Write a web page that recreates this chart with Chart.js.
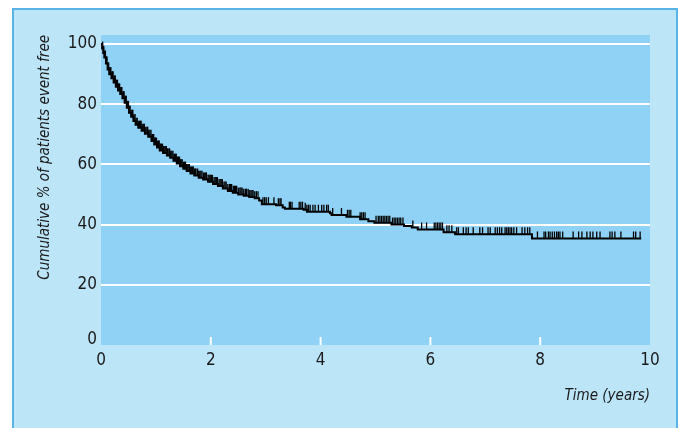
<!DOCTYPE html>
<html>
<head>
<meta charset="utf-8">
<script src="https://cdn.jsdelivr.net/npm/chart.js@4.4.0/dist/chart.umd.min.js"></script>
<style>
  html, body { margin: 0; padding: 0; background: #fff; }
  .panel { position: absolute; left: 12px; top: 8px; width: 662px; height: 430px; background: #bde5f8; border: 2px solid #58b2e6; }
  #wrap { position: absolute; left: 0; top: 0; width: 681px; height: 428px; }
</style>
</head>
<body>
<div class="panel"></div>
<div id="wrap"><canvas id="kmChart" width="681" height="428"></canvas></div>
<script>
// Kaplan-Meier curve
const stepTimes = [0, 0.02, 0.04, 0.06, 0.09, 0.12, 0.15, 0.19, 0.23, 0.27, 0.31, 0.35, 0.39, 0.43, 0.47, 0.51, 0.55, 0.59, 0.63, 0.68, 0.74, 0.8, 0.86, 0.92, 0.97, 1.02, 1.07, 1.13, 1.2, 1.26, 1.32, 1.38, 1.44, 1.5, 1.56, 1.63, 1.7, 1.78, 1.86, 1.95, 2.04, 2.13, 2.22, 2.31, 2.4, 2.5, 2.6, 2.7, 2.8, 2.88, 2.93, 3.19, 3.31, 3.35, 3.69, 3.75, 4.17, 4.2, 4.47, 4.72, 4.87, 4.98, 5.29, 5.52, 5.66, 5.77, 6.24, 6.45, 7.85, 9.84];
const stepSurvival = [100, 98.5, 97, 95.5, 93.5, 91.5, 90, 88.6, 87.2, 85.8, 84.6, 83.4, 82, 80.5, 78.8, 77.2, 75.8, 74.4, 73.2, 72.2, 71.2, 70.2, 69.2, 67.8, 66.6, 65.6, 64.6, 63.8, 63.0, 62.2, 61.2, 60.3, 59.4, 58.6, 57.8, 57, 56.3, 55.6, 55.0, 54.2, 53.5, 52.8, 52.0, 51.2, 50.6, 50.0, 49.6, 49.2, 48.8, 48.0, 46.8, 46.4, 45.7, 45.3, 44.9, 44.3, 43.8, 43.2, 42.6, 41.8, 41.1, 40.6, 40.0, 39.5, 39.0, 38.4, 37.5, 36.8, 35.4, 35.4];
// censored observations (tick marks)
const censorTimes = [0.03, 0.05, 0.07, 0.08, 0.1, 0.11, 0.13, 0.14, 0.16, 0.17, 0.18, 0.2, 0.21, 0.22, 0.24, 0.25, 0.26, 0.28, 0.29, 0.3, 0.32, 0.33, 0.34, 0.36, 0.37, 0.38, 0.4, 0.41, 0.42, 0.44, 0.45, 0.46, 0.48, 0.5, 0.52, 0.53, 0.55, 0.57, 0.58, 0.6, 0.62, 0.64, 0.66, 0.68, 0.7, 0.72, 0.73, 0.75, 0.77, 0.79, 0.8, 0.82, 0.84, 0.85, 0.87, 0.89, 0.91, 0.93, 0.94, 0.96, 0.98, 0.99,
  1.01, 1.03, 1.05, 1.06, 1.08, 1.1, 1.12, 1.14, 1.15, 1.17, 1.19, 1.21, 1.22, 1.24, 1.25, 1.27, 1.29, 1.31, 1.33, 1.34, 1.36, 1.37, 1.39, 1.41, 1.43, 1.45, 1.46, 1.48, 1.5, 1.52, 1.54, 1.56, 1.58, 1.6, 1.61, 1.63, 1.65, 1.67, 1.68, 1.7, 1.72, 1.73, 1.76, 1.78, 1.8, 1.82, 1.84, 1.87, 1.89, 1.91, 1.92, 1.95, 1.97, 1.99,
  2.01, 2.03, 2.06, 2.08, 2.1, 2.12, 2.15, 2.17, 2.19, 2.21, 2.24, 2.26, 2.28, 2.31, 2.34, 2.36, 2.38, 2.41, 2.43, 2.45, 2.47, 2.5, 2.53, 2.55, 2.57, 2.6, 2.63, 2.65, 2.68, 2.7, 2.73, 2.75, 2.77, 2.8, 2.83, 2.86,
  2.95, 2.98, 3.01, 3.05, 3.15, 3.23, 3.26, 3.28, 3.43, 3.45, 3.48, 3.61, 3.64, 3.67, 3.72, 3.75, 3.78, 3.81, 3.86, 3.90, 3.96, 4.02, 4.06, 4.11, 4.14, 4.22, 4.38, 4.49, 4.52, 4.55, 4.72, 4.75, 4.78, 4.81,
  5.01, 5.05, 5.08, 5.11, 5.14, 5.17, 5.2, 5.23, 5.26, 5.31, 5.34, 5.37, 5.4, 5.43, 5.46, 5.5, 5.68, 5.84, 5.93, 6.07, 6.1, 6.13, 6.16, 6.19, 6.22, 6.3, 6.34, 6.39, 6.48, 6.51, 6.6, 6.65, 6.69, 6.78, 6.9, 6.95,
  7.05, 7.09, 7.18, 7.22, 7.26, 7.3, 7.36, 7.39, 7.42, 7.45, 7.48, 7.52, 7.57, 7.67, 7.72, 7.77, 7.81, 7.95, 8.07, 8.1, 8.15, 8.18, 8.22, 8.26, 8.3, 8.33, 8.36, 8.41, 8.6, 8.7, 8.76, 8.85, 8.91, 8.96, 9.03, 9.09, 9.27, 9.31, 9.36, 9.47, 9.7, 9.74, 9.82];
const xTickValues = [0, 2, 4, 6, 8, 10];
const yTickValues = [0, 20, 40, 60, 80, 100];

const FONT = "'Liberation Sans Narrow', 'DejaVu Sans Condensed', 'Arial Narrow', sans-serif";
const TEXT = '#1a1a1a';

// survival level in force at time t (last step at or before t)
const survivalAt = (t) => {
    let v = stepSurvival[0];
    stepTimes.forEach((st, i) => { if (st <= t) v = stepSurvival[i]; });
    return v;
};

const plotBackground = {
    id: 'plotBackground',
    beforeDraw(chart) {
        const {ctx, chartArea: a} = chart;
        ctx.save();
        ctx.fillStyle = '#90d2f5';
        ctx.fillRect(a.left, a.top, a.right - a.left, a.bottom - a.top);
        ctx.restore();
    }
};

// small white ticks inside the plot, at the bottom
const innerTicks = {
    id: 'innerTicks',
    beforeDatasetsDraw(chart) {
        const {ctx, chartArea: a, scales: {x}} = chart;
        ctx.save();
        ctx.strokeStyle = '#fff';
        ctx.lineWidth = 2;
        x.ticks.forEach(t => {
            if (t.value <= x.min || t.value >= x.max) return;
            const px = x.getPixelForValue(t.value);
            ctx.beginPath();
            ctx.moveTo(px, a.bottom);
            ctx.lineTo(px, a.bottom - 8);
            ctx.stroke();
        });
        ctx.restore();
    }
};

const ctx = document.getElementById('kmChart');
new Chart(ctx, {
    type: 'line',
    data: {
        datasets: [{
            data: stepTimes.map((t, i) => ({x: t, y: stepSurvival[i]})),
            stepped: 'before',
            borderColor: '#000',
            borderWidth: 2,
            pointRadius: 0,
            fill: false
        }, {
            type: 'scatter',
            data: censorTimes.map(t => ({x: t, y: survivalAt(t)})),
            pointStyle: 'dash',
            pointRotation: -90,
            pointRadius: 7,
            pointBorderColor: '#000',
            pointBorderWidth: 1.3,
            pointBackgroundColor: '#000'
        }]
    },
    options: {
        responsive: false,
        animation: false,
        layout: { padding: { left: 0, right: 31, top: 35, bottom: 0 } },
        plugins: { legend: { display: false }, tooltip: { enabled: false } },
        scales: {
            x: {
                type: 'linear',
                min: 0,
                max: 10,
                afterFit(s) { s.height = 83; },
                afterBuildTicks(s) { s.ticks = xTickValues.map(v => ({value: v})); },
                grid: { display: false, drawTicks: false },
                border: { display: false },
                ticks: { padding: 5, color: TEXT, maxRotation: 0, autoSkip: false, font: { family: FONT, size: 17 } },
                title: {
                    display: true, text: 'Time (years)', align: 'end', color: TEXT,
                    font: { family: FONT, size: 15, style: 'italic' },
                    padding: { top: 0, bottom: 23 }
                }
            },
            y: {
                min: 0,
                max: 103,
                afterFit(s) { s.width = 101; },
                afterBuildTicks(s) { s.ticks = yTickValues.map(v => ({value: v})); },
                grid: {
                    color: (c) => (c.tick && c.tick.value === 0 ? 'rgba(0,0,0,0)' : '#fff'),
                    lineWidth: 2,
                    drawTicks: false
                },
                border: { display: false },
                ticks: {
                    padding: 4,
                    color: TEXT,
                    callback: (v) => (v === 0 ? ['0', ''] : String(v)),
                    font: (c) => ({ family: FONT, size: 17, lineHeight: (c.tick && c.tick.value === 0) ? '10px' : 1.2 })
                },
                title: {
                    display: true, text: 'Cumulative % of patients event free', align: 'end', color: TEXT,
                    font: { family: FONT, size: 15, style: 'italic' },
                    padding: { top: 36, bottom: 0 }
                }
            }
        }
    },
    plugins: [plotBackground, innerTicks]
});
</script>
</body>
</html>
